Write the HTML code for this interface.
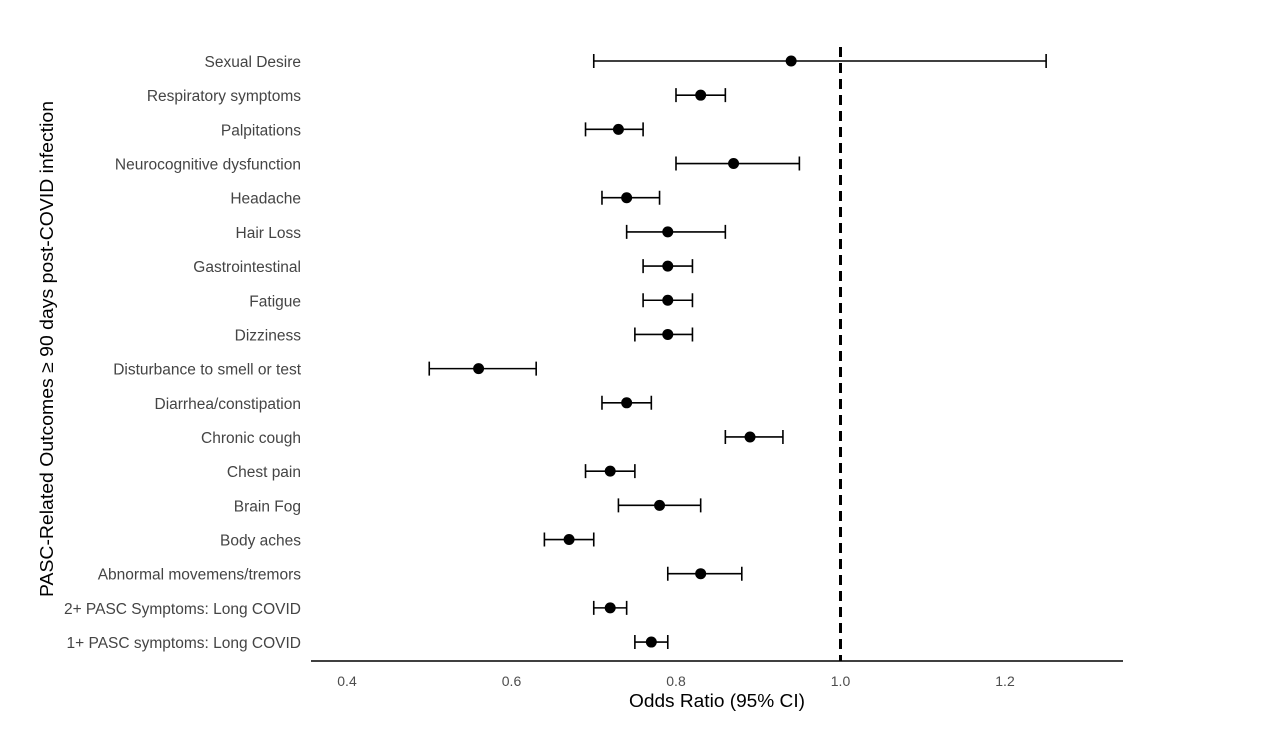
<!DOCTYPE html>
<html><head><meta charset="utf-8"><style>
body{margin:0;background:#fff;}
svg text{font-family:"Liberation Sans",Arial,sans-serif;}
</style></head><body>
<svg id="chart" width="1268" height="727" xmlns="http://www.w3.org/2000/svg">
<rect width="1268" height="727" fill="#fff"/>
<g id="marks"></g>
<line x1="311" y1="661" x2="1123" y2="661" stroke="#000" stroke-width="1.5"/>
<text x="717" y="707" font-size="18.5" text-anchor="middle" fill="#000" textLength="176" lengthAdjust="spacingAndGlyphs">Odds Ratio (95% CI)</text>
<text transform="translate(53,349) rotate(-90)" font-size="18.5" text-anchor="middle" fill="#000" textLength="496" lengthAdjust="spacingAndGlyphs">PASC-Related Outcomes ≥ 90 days post-COVID infection</text>
</svg>
<script>
const categories=["Sexual Desire","Respiratory symptoms","Palpitations","Neurocognitive dysfunction","Headache","Hair Loss","Gastrointestinal","Fatigue","Dizziness","Disturbance to smell or test","Diarrhea/constipation","Chronic cough","Chest pain","Brain Fog","Body aches","Abnormal movemens/tremors","2+ PASC Symptoms: Long COVID","1+ PASC symptoms: Long COVID"];
const estimates=[0.94,0.83,0.73,0.87,0.74,0.79,0.79,0.79,0.79,0.56,0.74,0.89,0.72,0.78,0.67,0.83,0.72,0.77];
const lower=[0.70,0.80,0.69,0.80,0.71,0.74,0.76,0.76,0.75,0.50,0.71,0.86,0.69,0.73,0.64,0.79,0.70,0.75];
const upper=[1.25,0.86,0.76,0.95,0.78,0.86,0.82,0.82,0.82,0.63,0.77,0.93,0.75,0.83,0.70,0.88,0.74,0.79];
const xTicks=[0.4,0.6,0.8,1.0,1.2];
const xTickLabels=["0.4","0.6","0.8","1.0","1.2"];
const refValue=1.0;
const NS="http://www.w3.org/2000/svg";
const X=v=>347+(v-0.4)*822.5;
const Y=i=>61+i*34.18;
const svg=document.getElementById('chart');
const g=document.getElementById('marks');
function mk(t,a){const e=document.createElementNS(NS,t);for(const k in a)e.setAttribute(k,a[k]);return e;}
const ref=mk('line',{x1:X(refValue),x2:X(refValue),y1:47,y2:661,stroke:'#000','stroke-width':3,'stroke-dasharray':'10,6'});


g.appendChild(ref);
xTicks.forEach((t,i)=>{
 const tx=mk('text',{x:X(t),y:686,'font-size':14,'text-anchor':'middle',fill:'#4d4d4d'});
 tx.textContent=xTickLabels[i];
 
 
 svg.appendChild(tx);
});
categories.forEach((c,i)=>{
 const y=Y(i);
 const lb=mk('text',{x:301,y:y+6,'font-size':15.5,'text-anchor':'end',fill:'#444'});
 lb.textContent=c;
 
 
 svg.appendChild(lb);
 const ci=mk('path',{d:`M${X(lower[i])},${y}H${X(upper[i])}M${X(lower[i])},${y-7}V${y+7}M${X(upper[i])},${y-7}V${y+7}`,stroke:'#000','stroke-width':1.6,fill:'none'});
 
 
 g.appendChild(ci);
 const p=mk('circle',{cx:X(estimates[i]),cy:y,r:5.5,fill:'#000'});
 
 
 g.appendChild(p);
});
</script>
</body></html>
